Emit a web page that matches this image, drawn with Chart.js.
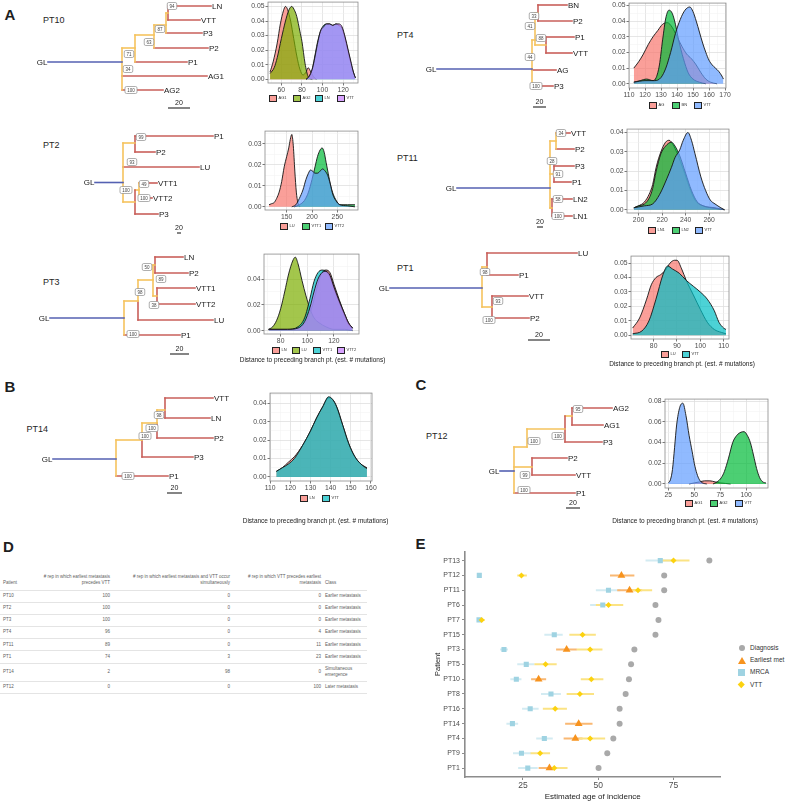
<!DOCTYPE html>
<html>
<head>
<meta charset="utf-8">
<script src="https://cdn.jsdelivr.net/npm/chart.js@4.4.1/dist/chart.umd.min.js"></script>
<style>
  body { margin: 0; background: #fff; font-family: "Liberation Sans", Arial, Helvetica, sans-serif; }
  #page { position: relative; width: 786px; height: 802px; overflow: hidden; background: #fff; }
  .txt { position: absolute; white-space: nowrap; color: #1e1e1e; }
  #tableD { position: absolute; left: 0; top: 566px; border-collapse: collapse; font-size: 4.5px; color: #5e5e5e; table-layout: fixed; }
  #tableD td, #tableD th { padding: 0 1px; font-weight: normal; border-bottom: 0.8px solid #e4e4e4; line-height: 6.4px; }
  #tableD th { vertical-align: bottom; padding-bottom: 3px; }
  .leg { position: absolute; }
</style>
</head>
<body>
<div id="page"></div>
<script>
const FONT = '"Liberation Sans", Arial, Helvetica, sans-serif';
Chart.defaults.font.family = FONT;

// ---------- trees (branch = [x1, y1, x2, y2, kind, tip]) ----------
const pt10Branches = [
  [0, 56, 74, 56, 'g'], [74, 42, 74, 84, 'o'], [74, 42, 87, 42, 'o'], [87, 29, 87, 56, 'o'],
  [87, 56, 139, 56, 'r', 'P1'], [87, 29, 106, 29, 'o'], [106, 19, 106, 42, 'o'],
  [106, 42, 160, 42, 'r', 'P2'], [106, 19, 118, 19, 'o'], [118, 7, 118, 27, 'o'],
  [118, 27, 154, 27, 'r', 'P3'], [118, 7, 120, 7, 'o'], [120, 0, 120, 14, 'r'],
  [120, 0, 163, 0, 'r', 'LN'], [120, 14, 152, 14, 'r', 'VTT'],
  [74, 70, 159, 70, 'r', 'AG1'], [74, 84, 115, 84, 'r', 'AG2']
];
const pt10Boot = [[94, 124, 0], [87, 112, 23], [63, 101, 36], [71, 81, 48], [34, 80, 63], [100, 83, 84]];
const pt10Bar = [120, 142, 102];

const pt4Branches = [
  [0, 64, 95, 64, 'g'], [95, 35, 95, 81, 'o'], [95, 35, 98, 35, 'o'], [98, 8, 98, 40, 'o'],
  [98, 8, 101, 8, 'o'], [101, 0, 101, 16, 'r'], [101, 0, 130, 0, 'r', 'BN'],
  [101, 16, 135, 16, 'r', 'P2'], [98, 40, 109, 40, 'o'], [109, 32, 109, 48, 'r'],
  [109, 32, 137, 32, 'r', 'P1'], [109, 48, 135, 48, 'r', 'VTT'],
  [95, 65, 119, 65, 'r', 'AG'], [95, 81, 116, 81, 'r', 'P3']
];
const pt4Boot = [[33, 97, 11], [41, 93, 21], [88, 104, 33], [44, 93, 52], [100, 99, 81]];
const pt4Bar = [96, 109, 102];

const pt2Branches = [
  [0, 46.5, 28, 46.5, 'g'], [28, 7, 28, 66, 'o'], [28, 7, 40, 7, 'o'], [40, 0, 40, 16, 'r'],
  [40, 0, 118, 0, 'r', 'P1'], [40, 16, 60, 16, 'r', 'P2'], [28, 31, 104, 31, 'r', 'LU'],
  [28, 66, 40, 66, 'o'], [40, 54, 40, 78, 'r'], [40, 54, 44, 54, 'o'], [44, 47, 44, 62, 'o'],
  [44, 47, 62, 47, 'r', 'VTT1'], [44, 62, 57, 62, 'r', 'VTT2'], [40, 78, 63, 78, 'r', 'P3']
];
const pt2Boot = [[99, 46, 1], [93, 37, 26], [100, 31, 54], [49, 49, 48], [100, 49, 62]];
const pt2Bar = [82, 86, 97];

const pt11Branches = [
  [0, 55, 93, 55, 'g'], [93, 8, 93, 75, 'o'], [93, 8, 99, 8, 'o'], [99, 0, 99, 16, 'o'],
  [99, 0, 113, 0, 'r', 'VTT'], [99, 16, 117, 16, 'r', 'P2'], [93, 41, 97, 41, 'o'],
  [97, 33, 97, 49, 'r'], [97, 33, 117, 33, 'r', 'P3'], [97, 49, 114, 49, 'r', 'P1'],
  [93, 75, 95, 75, 'o'], [95, 66, 95, 83, 'r'], [95, 66, 115, 66, 'r', 'LN2'], [95, 83, 115, 83, 'r', 'LN1']
];
const pt11Boot = [[34, 104, 0], [28, 95, 28], [91, 101, 41], [58, 101, 66], [100, 101, 83]];
const pt11Bar = [80, 86, 94];

const pt3Branches = [
  [0, 61, 74, 61, 'g'], [74, 44, 74, 78, 'o'], [74, 44, 88, 44, 'o'], [88, 23, 88, 44, 'o'],
  [88, 44, 88, 63, 'r'], [88, 63, 163, 63, 'r', 'LU'], [88, 23, 103, 23, 'o'], [103, 8, 103, 39, 'o'],
  [103, 8, 105, 8, 'o'], [105, 0, 105, 16, 'r'], [105, 0, 133, 0, 'r', 'LN'], [105, 16, 138, 16, 'r', 'P2'],
  [103, 39, 107, 39, 'o'], [107, 31, 107, 47, 'r'], [107, 31, 145, 31, 'r', 'VTT1'],
  [107, 47, 145, 47, 'r', 'VTT2'], [74, 78, 130, 78, 'r', 'P1']
];
const pt3Boot = [[50, 97, 10], [89, 111, 22], [98, 90, 35], [38, 104, 48], [100, 83, 77]];
const pt3Bar = [120, 139, 97];

const pt1Branches = [
  [0, 35, 92, 35, 'g'], [92, 14, 92, 54, 'o'], [92, 14, 97, 14, 'o'], [97, 0, 97, 22, 'r'],
  [97, 0, 187, 0, 'r', 'LU'], [97, 22, 128, 22, 'r', 'P1'], [92, 54, 102, 54, 'o'],
  [102, 43, 102, 65, 'r'], [102, 43, 138, 43, 'r', 'VTT'], [102, 65, 139, 65, 'r', 'P2']
];
const pt1Boot = [[98, 95, 19], [93, 108, 48], [100, 99, 67]];
const pt1Bar = [138, 160, 87];

const pt14Branches = [
  [0, 61, 63, 61, 'g'], [63, 42, 63, 78, 'o'], [63, 42, 89, 42, 'o'], [89, 25, 89, 42, 'o'],
  [89, 42, 89, 59, 'r'], [89, 59, 140, 59, 'r', 'P3'], [89, 25, 104, 25, 'o'], [104, 12, 104, 25, 'o'],
  [104, 25, 104, 40, 'r'], [104, 40, 160, 40, 'r', 'P2'], [104, 12, 112, 12, 'o'], [112, 0, 112, 20, 'r'],
  [112, 0, 160, 0, 'r', 'VTT'], [112, 20, 157, 20, 'r', 'LN'], [63, 78, 115, 78, 'r', 'P1']
];
const pt14Boot = [[98, 106, 17], [100, 99, 30], [100, 92, 38], [100, 75, 78]];
const pt14Bar = [114, 129, 95];

const pt12Branches = [
  [0, 63, 14, 63, 'g'], [14, 39, 14, 85, 'o'], [14, 39, 27, 39, 'o'], [27, 21, 27, 39, 'o'],
  [27, 21, 65, 21, 'o'], [65, 8, 65, 34, 'r'], [65, 8, 72, 8, 'o'], [72, 0, 72, 17, 'r'],
  [72, 0, 112, 0, 'r', 'AG2'], [72, 17, 103, 17, 'r', 'AG1'], [65, 34, 102, 34, 'r', 'P3'],
  [14, 59, 32, 59, 'o'], [32, 50, 32, 67, 'r'], [32, 50, 67, 50, 'r', 'P2'],
  [32, 67, 75, 67, 'r', 'VTT'], [14, 85, 75, 85, 'r', 'P1']
];
const pt12Boot = [[95, 78, 1], [100, 58, 28], [100, 34, 33], [99, 25, 67], [100, 24, 82]];
const pt12Bar = [66, 80, 100];

// ---------- densities ----------
const pt10Names = ['AG1', 'AG2', 'LN', 'VTT'];
const pt10AG1 = [[49,0.005],[52,0.012],[56,0.025],[59,0.038],[62,0.047],[64,0.05],[66,0.048],[69,0.04],[72,0.028],[75,0.016],[78,0.007],[81,0.003],[84,0.005],[86,0.008],[88,0.006],[91,0.002],[94,0]];
const pt10AG2 = [[49,0.004],[53,0.008],[56,0.015],[60,0.028],[64,0.04],[67,0.047],[70,0.05],[73,0.047],[75,0.043],[78,0.033],[80,0.026],[83,0.011],[86,0.002],[90,0]];
const pt10LN = [[84,0],[87,0.002],[90,0.007],[92,0.014],[95,0.025],[98,0.033],[101,0.037],[104,0.038],[107,0.038],[110,0.037],[113,0.038],[116,0.037],[119,0.035],[122,0.028],[125,0.019],[128,0.01],[130,0.005],[132,0.001]];
const pt10VTT = [[84,0],[87,0.002],[90,0.007],[92,0.013],[95,0.024],[98,0.033],[101,0.036],[104,0.038],[107,0.038],[110,0.037],[113,0.038],[116,0.038],[119,0.036],[122,0.029],[125,0.02],[128,0.011],[130,0.005],[132,0.001]];

const pt4Names = ['AG', 'BN', 'VTT'];
const pt4AG = [[113,0.01],[116,0.014],[119,0.019],[122,0.025],[125,0.03],[128,0.034],[131,0.038],[134,0.039],[137,0.036],[140,0.03],[143,0.024],[146,0.019],[149,0.016],[152,0.012],[155,0.007],[158,0.003],[161,0.001],[165,0]];
const pt4BN = [[113,0.001],[117,0.002],[121,0.003],[125,0.002],[127,0.004],[129,0.012],[131,0.028],[133,0.042],[135,0.047],[137,0.045],[139,0.038],[141,0.028],[144,0.016],[147,0.007],[150,0.003],[154,0.001],[158,0]];
const pt4VTT = [[113,0.001],[120,0.002],[126,0.002],[130,0.004],[133,0.01],[136,0.02],[139,0.032],[142,0.041],[145,0.047],[148,0.049],[150,0.046],[152,0.04],[154,0.033],[156,0.026],[158,0.02],[160,0.015],[162,0.012],[164,0.01],[166,0.008],[168,0.005],[169,0.003]];

const pt2Names = ['LU', 'VTT1', 'VTT2'];
const pt2LU = [[115,0.001],[120,0.0015],[125,0.002],[130,0.004],[135,0.007],[140,0.012],[145,0.019],[150,0.024],[154,0.028],[157,0.032],[160,0.0344],[163,0.029],[166,0.017],[169,0.007],[172,0.002],[176,0]];
const pt2VTT1 = [[165,0],[175,0.001],[185,0.003],[193,0.007],[200,0.013],[206,0.019],[211,0.024],[216,0.027],[220,0.028],[224,0.026],[228,0.021],[232,0.016],[237,0.01],[242,0.006],[248,0.003],[255,0.001],[270,0.001],[285,0.001]];
const pt2VTT2 = [[160,0],[168,0.001],[175,0.004],[182,0.008],[188,0.013],[193,0.016],[197,0.0175],[201,0.017],[206,0.016],[211,0.016],[216,0.017],[221,0.018],[226,0.017],[231,0.015],[236,0.011],[241,0.006],[247,0.003],[255,0.001],[270,0.0005],[285,0]];

const pt11Names = ['LN1', 'LN2', 'VTT'];
const pt11LN1 = [[196,0.001],[200,0.002],[205,0.004],[209,0.008],[212,0.013],[215,0.022],[219,0.03],[223,0.035],[226,0.036],[229,0.034],[233,0.029],[238,0.021],[243,0.012],[248,0.005],[255,0.002],[265,0.001],[273,0]];
const pt11LN2 = [[196,0.001],[200,0.002],[205,0.003],[209,0.006],[212,0.011],[215,0.02],[219,0.029],[223,0.033],[228,0.035],[231,0.033],[235,0.028],[240,0.019],[245,0.01],[250,0.004],[255,0.002],[262,0.001],[273,0]];
const pt11VTT = [[196,0.001],[205,0.002],[212,0.003],[218,0.008],[224,0.016],[228,0.022],[231,0.027],[235,0.031],[238,0.036],[242,0.04],[245,0.036],[248,0.029],[253,0.017],[257,0.01],[261,0.005],[265,0.003],[270,0.001],[273,0]];

const pt3Names = ['LN', 'LU', 'VTT1', 'VTT2'];
const pt3LN = [[71,0.001],[85,0.001],[95,0.003],[100,0.008],[104,0.02],[108,0.036],[111,0.045],[114,0.047],[117,0.045],[120,0.036],[124,0.024],[128,0.013],[131,0.006],[134,0.002]];
const pt3LU = [[71,0.001],[74,0.003],[77,0.008],[80,0.017],[83,0.03],[86,0.044],[89,0.054],[91,0.057],[93,0.052],[96,0.039],[99,0.027],[102,0.017],[105,0.01],[109,0.006],[114,0.003],[120,0.001],[128,0.001],[134,0]];
const pt3VTT1 = [[71,0.001],[85,0.001],[93,0.003],[98,0.01],[102,0.025],[105,0.038],[108,0.045],[111,0.047],[114,0.046],[117,0.042],[120,0.033],[124,0.022],[128,0.012],[131,0.005],[134,0.002]];
const pt3VTT2 = [[71,0.001],[85,0.001],[93,0.002],[98,0.007],[102,0.018],[105,0.03],[108,0.04],[111,0.045],[114,0.046],[117,0.043],[120,0.034],[124,0.023],[128,0.013],[131,0.006],[134,0.002]];

const pt1Names = ['LU', 'VTT'];
const pt1LU = [[71,0.005],[74,0.012],[77,0.025],[79,0.035],[81,0.04],[83,0.042],[85,0.045],[87,0.05],[89,0.052],[90,0.052],[92,0.046],[94,0.038],[97,0.028],[100,0.018],[103,0.009],[106,0.004],[109,0.002],[111,0.001]];
const pt1VTT = [[71,0.001],[75,0.003],[78,0.01],[81,0.025],[84,0.042],[86,0.048],[88,0.046],[91,0.043],[94,0.038],[97,0.034],[100,0.03],[103,0.025],[106,0.017],[108,0.009],[110,0.005],[111,0.004]];

const pt14Names = ['LN', 'VTT'];
const pt14LN = [[113,0.003],[116,0.005],[119,0.008],[122,0.011],[126,0.017],[130,0.025],[133,0.032],[136,0.038],[139,0.043],[141,0.042],[143,0.038],[146,0.028],[149,0.018],[152,0.011],[155,0.007],[158,0.005]];
const pt14VTT = [[113,0.003],[116,0.005],[119,0.007],[122,0.01],[126,0.017],[130,0.025],[133,0.032],[136,0.038],[139,0.0435],[141,0.042],[143,0.038],[146,0.028],[149,0.018],[152,0.011],[155,0.007],[158,0.0045]];

const pt12Names = ['AG1', 'AG2', 'VTT'];
const pt12AG1 = [[45,0],[50,0.001],[55,0.002],[60,0.003],[65,0.003],[70,0.002],[75,0.001],[80,0.0005],[85,0]];
const pt12AG2 = [[68,0],[72,0.002],[76,0.006],[79,0.012],[83,0.025],[87,0.04],[91,0.047],[95,0.05],[98,0.0505],[101,0.047],[104,0.04],[107,0.028],[110,0.015],[113,0.006],[116,0.002],[119,0.001]];
const pt12VTT = [[25,0.001],[27,0.004],[29,0.014],[31,0.035],[33,0.057],[36,0.074],[39,0.078],[42,0.066],[45,0.047],[48,0.031],[50,0.02],[52.5,0.01],[55,0.004],[58,0.001],[62,0]];

const pal2 = ['#F8766D', '#00BFC4'];
const pal3 = ['#F8766D', '#00BA38', '#619CFF'];
const pal4 = ['#F8766D', '#7CAE00', '#00BFC4', '#C77CFF'];

// ---------- panel D ----------
const dHeader = [['Patient'], ['# rep in which earliest metastasis', 'precedes VTT'],
  ['# rep in which earliest metastasis and VTT occur', 'simultaneously'],
  ['# rep in which VTT precedes earliest', 'metastasis'], ['Class']];
const dPatients = ['PT10', 'PT2', 'PT3', 'PT4', 'PT11', 'PT1', 'PT14', 'PT12'];
const dPrecedes = [100, 100, 100, 96, 89, 74, 2, 0];
const dSimult = [0, 0, 0, 0, 0, 3, 98, 0];
const dVttFirst = [0, 0, 0, 4, 11, 23, 0, 100];
const dClass = ['Earlier metastasis', 'Earlier metastasis', 'Earlier metastasis', 'Earlier metastasis',
  'Earlier metastasis', 'Earlier metastasis', 'Simultaneous emergence', 'Later metastasis'];

// ---------- panel E ----------
const ePatients = ['PT13', 'PT12', 'PT11', 'PT6', 'PT7', 'PT15', 'PT3', 'PT5', 'PT10', 'PT8', 'PT16', 'PT14', 'PT4', 'PT9', 'PT1'];
const eDiagnosis = [86.9, 71.9, 71.9, 69.0, 70.0, 69.0, 62.0, 60.9, 60.2, 59.1, 57.1, 57.1, 55.0, 53.0, 50.1];
const eMrca = [70.6, 10.5, 53.4, 51.5, 10.4, 35.4, 18.7, 26.1, 22.8, 34.3, 27.4, 21.5, 32.1, 24.5, 26.6];
const eMrcaLo = [65.7, 10.2, 49.2, 47.3, 10.0, 32.1, 17.4, 23.1, 20.8, 31.0, 24.7, 19.5, 29.4, 21.7, 23.4];
const eMrcaHi = [75.0, 10.8, 57.4, 55.2, 10.8, 38.2, 20.0, 28.8, 24.5, 37.6, 30.2, 23.4, 34.9, 27.7, 29.9];
const eMet = [null, 57.7, 60.4, null, null, null, 39.5, null, 30.2, null, null, 43.5, 42.4, null, 33.8];
const eMetLo = [null, 53.9, 56.3, null, null, null, 36.0, null, 27.7, null, null, 39.0, 38.5, null, 30.2];
const eMetHi = [null, 62.0, 64.6, null, null, null, 42.9, null, 32.7, null, null, 48.1, 44.8, null, 37.4];
const eVtt = [75.0, 24.5, 63.2, 53.4, 11.3, 44.8, 47.3, 32.5, 47.7, 43.9, 35.7, null, 47.3, 30.7, 35.4];
const eVttLo = [71.2, 23.1, 59.6, 49.2, 10.3, 40.4, 42.9, 28.8, 44.2, 39.5, 31.6, null, 43.7, 27.5, 33.2];
const eVttHi = [80.3, 26.3, 67.9, 58.3, 12.3, 49.2, 51.4, 36.2, 51.7, 48.6, 39.6, null, 52.3, 34.0, 39.8];
const eXTicks = [25, 50, 75];

// ---------- helpers ----------
const page = document.getElementById('page');

function hexA(hex, a) {
  const n = parseInt(hex.slice(1), 16);
  return `rgba(${n >> 16},${(n >> 8) & 255},${n & 255},${a})`;
}

function addText(str, x, yc, size, o = {}) {
  const d = document.createElement('div');
  d.className = 'txt';
  d.textContent = str;
  d.style.fontSize = size + 'px';
  d.style.lineHeight = size + 'px';
  d.style.top = (yc - size / 2) + 'px';
  d.style.left = x + 'px';
  if (o.bold) d.style.fontWeight = 'bold';
  if (o.color) d.style.color = o.color;
  if (o.center) d.style.transform = 'translateX(-50%)';
  page.appendChild(d);
  return d;
}

function addCanvas(left, top, w, h) {
  const c = document.createElement('canvas');
  c.width = w; c.height = h;
  c.style.cssText = `position:absolute;left:${left}px;top:${top}px;width:${w}px;height:${h}px`;
  page.appendChild(c);
  return c;
}

const TREE_INK = { g: '#5461b2', o: '#f5c35e', r: '#c95f5a' };

function drawTree(box, origin, branches, boot, bar) {
  const c = addCanvas(box.left, box.top, box.w, box.h);
  const datasets = branches.map(b => ({
    data: [{ x: b[0], y: b[1] }, { x: b[2], y: b[3] }],
    showLine: true, borderColor: TREE_INK[b[4]], borderWidth: 1.6,
    pointRadius: 0, borderCapStyle: 'square'
  }));
  datasets.push({
    data: [{ x: bar[0], y: bar[2] }, { x: bar[1], y: bar[2] }],
    showLine: true, borderColor: '#222', borderWidth: 1.1, pointRadius: 0
  });
  new Chart(c, {
    type: 'scatter',
    data: { datasets },
    options: {
      responsive: false, animation: false, events: [],
      layout: { padding: 0 },
      plugins: { legend: { display: false }, tooltip: { enabled: false } },
      scales: {
        x: { display: false, min: box.left - origin.x, max: box.left + box.w - origin.x },
        y: { display: false, reverse: true, min: box.top - origin.y, max: box.top + box.h - origin.y }
      }
    },
    plugins: [{
      id: 'treeText',
      afterDatasetsDraw(chart) {
        const { ctx } = chart;
        const px = v => chart.scales.x.getPixelForValue(v);
        const py = v => chart.scales.y.getPixelForValue(v);
        ctx.save();
        ctx.fillStyle = '#1a1a1a';
        ctx.textBaseline = 'middle';
        ctx.font = `8px ${FONT}`;
        branches.forEach(b => { if (b[5]) ctx.fillText(b[5], px(b[2]) + 1, py(b[3]) + 0.5); });
        const trunk = branches[0];
        ctx.textAlign = 'right';
        ctx.fillText('GL', px(trunk[0]) - 0.5, py(trunk[1]) + 0.5);
        ctx.textAlign = 'center';
        ctx.font = `7px ${FONT}`;
        ctx.fillText('20', px((bar[0] + bar[1]) / 2), py(bar[2]) - 5);
        ctx.font = `4.5px ${FONT}`;
        boot.forEach(([v, bx, by]) => {
          const s = String(v);
          const w = ctx.measureText(s).width + 4.5, h = 7;
          const cx = px(bx), cy = py(by);
          ctx.beginPath();
          ctx.roundRect(cx - w / 2, cy - h / 2, w, h, 1.5);
          ctx.fillStyle = '#fff';
          ctx.fill();
          ctx.strokeStyle = '#8c8c8c';
          ctx.lineWidth = 0.7;
          ctx.stroke();
          ctx.fillStyle = '#444';
          ctx.fillText(s, cx, cy + 0.3);
        });
        ctx.restore();
      }
    }]
  });
}

function gridValues(min, max, step) {
  const half = step / 2, out = [];
  for (let k = Math.ceil(min / half - 1e-9); k * half <= max + 1e-9; k++) out.push(+(k * half).toFixed(6));
  return out;
}
const isMajor = (v, step) => Math.abs(v / step - Math.round(v / step)) < 1e-6;

function densityAxis(min, max, step, fmt, fit) {
  return {
    type: 'linear', min, max,
    afterBuildTicks: s => { s.ticks = gridValues(min, max, step).map(v => ({ value: v })); },
    afterFit: fit,
    ticks: {
      autoSkip: false, maxRotation: 0, padding: 1, color: '#4d4d4d',
      font: { size: 6.8 },
      callback: v => isMajor(v, step) ? fmt(v) : ''
    },
    grid: {
      color: c => c.tick && isMajor(c.tick.value, step) ? '#e0e0e0' : '#f1f1f1',
      lineWidth: c => c.tick && isMajor(c.tick.value, step) ? 0.8 : 0.5,
      tickColor: c => c.tick && isMajor(c.tick.value, step) ? '#555' : 'rgba(0,0,0,0)',
      tickLength: 2.5
    },
    border: { display: false }
  };
}

function drawDensity(d) {
  const padL = 22, padT = 5, padR = 6, axisH = 12;
  const left = Math.round(d.frame.L) - padL, top = Math.round(d.frame.T) - padT;
  const w = Math.round(d.frame.R - d.frame.L) + padL + padR;
  const h = Math.round(d.frame.B - d.frame.T) + padT + axisH;
  const c = addCanvas(left, top, w, h);
  const n = d.names.length;
  const datasets = d.names.map((name, i) => ({
    label: name,
    data: d.series[i].map(p => ({ x: p[0], y: p[1] })),
    fill: 'origin',
    backgroundColor: hexA(d.colors[i], 0.7),
    borderColor: '#141414', borderWidth: 0.9,
    pointRadius: 0, cubicInterpolationMode: 'monotone',
    order: n - i
  }));
  new Chart(c, {
    type: 'line',
    data: { datasets },
    options: {
      responsive: false, animation: false, events: [],
      layout: { padding: { left: 0, top: padT, right: padR, bottom: 0 } },
      plugins: { legend: { display: false }, tooltip: { enabled: false } },
      scales: {
        x: densityAxis(d.x[0], d.x[1], d.xStep, v => String(v), s => { s.height = axisH; }),
        y: densityAxis(d.y[0], d.y[1], d.yStep, v => v.toFixed(2), s => { s.width = padL; })
      }
    },
    plugins: [{
      id: 'panelBorder',
      afterDraw(chart) {
        const a = chart.chartArea, ctx = chart.ctx;
        ctx.save();
        ctx.strokeStyle = '#8a8a8a';
        ctx.lineWidth = 0.8;
        ctx.strokeRect(a.left, a.top, a.right - a.left, a.bottom - a.top);
        ctx.restore();
      }
    }]
  });
  d.legendX.forEach((lx, i) => {
    const b = document.createElement('div');
    b.className = 'leg';
    b.style.cssText += `left:${lx}px;top:${d.legendY - 3.5}px;width:5.5px;height:5.5px;border:0.8px solid #222;background:${hexA(d.colors[i], 0.7)}`;
    page.appendChild(b);
    addText(d.names[i], lx + 9.5, d.legendY, 4, { color: '#333' });
  });
  if (d.titleY) addText('Distance to preceding branch pt. (est. # mutations)', d.titleX, d.titleY, 6.5, { center: true, color: '#222' });
}

// ---------- labels ----------
addText('A', 4.5, 14.3, 15, { bold: true });
addText('B', 4.5, 386.7, 15, { bold: true });
addText('C', 415.5, 384, 15, { bold: true });
addText('D', 3, 546, 15, { bold: true });
addText('E', 415.5, 543.5, 15, { bold: true });
addText('PT10', 43, 20.7, 9);
addText('PT4', 397, 35, 9);
addText('PT2', 43, 145.7, 9);
addText('PT11', 397, 158.3, 9);
addText('PT3', 43, 282.3, 9);
addText('PT1', 397, 268.3, 9);
addText('PT14', 26.5, 429.3, 9);
addText('PT12', 426, 436.7, 9);

// ---------- trees ----------
drawTree({ left: 30, top: 0, w: 200, h: 112 }, { x: 48, y: 6 }, pt10Branches, pt10Boot, pt10Bar);
drawTree({ left: 420, top: 0, w: 200, h: 112 }, { x: 437, y: 5 }, pt4Branches, pt4Boot, pt4Bar);
drawTree({ left: 30, top: 120, w: 200, h: 118 }, { x: 95, y: 136 }, pt2Branches, pt2Boot, pt2Bar);
drawTree({ left: 420, top: 118, w: 190, h: 118 }, { x: 457, y: 133 }, pt11Branches, pt11Boot, pt11Bar);
drawTree({ left: 30, top: 240, w: 200, h: 120 }, { x: 50, y: 257 }, pt3Branches, pt3Boot, pt3Bar);
drawTree({ left: 372, top: 240, w: 218, h: 105 }, { x: 390, y: 253 }, pt1Branches, pt1Boot, pt1Bar);
drawTree({ left: 30, top: 385, w: 200, h: 115 }, { x: 53, y: 398 }, pt14Branches, pt14Boot, pt14Bar);
drawTree({ left: 470, top: 395, w: 160, h: 120 }, { x: 500, y: 408 }, pt12Branches, pt12Boot, pt12Bar);

// ---------- densities ----------
drawDensity({ frame: { L: 268, T: 2, R: 358, B: 83 }, x: [47, 134.5], y: [-0.0025, 0.053], xStep: 20, yStep: 0.01,
  names: pt10Names, series: [pt10AG1, pt10AG2, pt10LN, pt10VTT], colors: pal4, legendX: [269, 293, 315, 337], legendY: 98 });
drawDensity({ frame: { L: 629, T: 3, R: 726, B: 88 }, x: [110, 170.6], y: [-0.0027, 0.0515], xStep: 10, yStep: 0.01,
  names: pt4Names, series: [pt4AG, pt4BN, pt4VTT], colors: pal3, legendX: [649, 672, 694], legendY: 105 });
drawDensity({ frame: { L: 265, T: 131, R: 358, B: 210 }, x: [107, 291], y: [-0.0015, 0.036], xStep: 50, yStep: 0.01,
  names: pt2Names, series: [pt2LU, pt2VTT1, pt2VTT2], colors: pal3, legendX: [280, 302, 325], legendY: 226 });
drawDensity({ frame: { L: 627, T: 129, R: 729, B: 213 }, x: [190.2, 276.9], y: [-0.0017, 0.0418], xStep: 20, yStep: 0.01,
  names: pt11Names, series: [pt11LN1, pt11LN2, pt11VTT], colors: pal3, legendX: [648, 672, 695], legendY: 230 });
drawDensity({ frame: { L: 264, T: 254, R: 359, B: 334 }, x: [67.5, 138.8], y: [-0.0026, 0.0594], xStep: 20, yStep: 0.02,
  names: pt3Names, series: [pt3LN, pt3LU, pt3VTT1, pt3VTT2], colors: pal4, legendX: [272, 292, 313, 337], legendY: 350,
  titleX: 312.5, titleY: 360.7 });
drawDensity({ frame: { L: 631, T: 256, R: 729, B: 339 }, x: [70.3, 112.3], y: [-0.0026, 0.0549], xStep: 10, yStep: 0.01,
  names: pt1Names, series: [pt1LU, pt1VTT], colors: pal2, legendX: [661, 682], legendY: 354,
  titleX: 682, titleY: 364 });
drawDensity({ frame: { L: 270, T: 393, R: 372, B: 481 }, x: [109.9, 160.5], y: [-0.0022, 0.0455], xStep: 10, yStep: 0.01,
  names: pt14Names, series: [pt14LN, pt14VTT], colors: pal2, legendX: [300, 322], legendY: 498,
  titleX: 315.5, titleY: 521.7 });
drawDensity({ frame: { L: 665, T: 399, R: 768, B: 488 }, x: [21.8, 121], y: [-0.0039, 0.082], xStep: 25, yStep: 0.02,
  names: pt12Names, series: [pt12AG1, pt12AG2, pt12VTT], colors: pal3, legendX: [685, 710, 735], legendY: 503,
  titleX: 685, titleY: 521.7 });

// ---------- panel D table ----------
(function () {
  const widths = [35, 76, 120, 91, 45];
  const t = document.createElement('table');
  t.id = 'tableD';
  t.style.width = widths.reduce((a, b) => a + b, 0) + 'px';
  const cg = document.createElement('colgroup');
  widths.forEach(w => { const c = document.createElement('col'); c.style.width = w + 'px'; cg.appendChild(c); });
  t.appendChild(cg);
  const hr = document.createElement('tr');
  hr.style.height = '24px';
  dHeader.forEach((lines, i) => {
    const th = document.createElement('th');
    th.innerHTML = lines.join('<br>');
    th.style.textAlign = (i === 0 || i === 4) ? 'left' : 'right';
    if (i === 0 || i === 4) th.style.paddingLeft = '3px';
    hr.appendChild(th);
  });
  t.appendChild(hr);
  dPatients.forEach((p, r) => {
    const tr = document.createElement('tr');
    tr.style.height = (dClass[r].length > 20 ? 18.4 : 12.2) + 'px';
    [p, dPrecedes[r], dSimult[r], dVttFirst[r], dClass[r]].forEach((v, i) => {
      const td = document.createElement('td');
      td.textContent = v;
      td.style.textAlign = (i === 0 || i === 4) ? 'left' : 'right';
      if (i === 0 || i === 4) td.style.paddingLeft = '3px';
      td.style.whiteSpace = (i === 4 && String(v).length > 20) ? 'normal' : 'nowrap';
      tr.appendChild(td);
    });
    t.appendChild(tr);
  });
  page.appendChild(t);
})();

// ---------- panel E ----------
(function () {
  const c = addCanvas(433, 545, 292, 257);
  const pts = vals => vals.map((v, i) => v == null ? null : { x: v, y: i + 1 }).filter(Boolean);
  const bars = (lo, hi) => {
    const out = [];
    lo.forEach((l, i) => {
      if (l == null) return;
      out.push({ x: l, y: i + 1 }, { x: hi[i], y: i + 1 }, { x: hi[i], y: null });
    });
    return out;
  };
  const barSet = (data, color, order) => ({ data, showLine: true, spanGaps: false, borderColor: color, borderWidth: 2, pointRadius: 0, order });
  const axisInk = '#8c8c8c';
  const axisBase = {
    grid: { drawOnChartArea: false, tickLength: 3, color: axisInk, tickColor: axisInk },
    border: { color: axisInk, width: 1.6 }
  };
  new Chart(c, {
    type: 'scatter',
    data: {
      datasets: [
        { label: 'VTT', data: pts(eVtt), pointStyle: 'rectRot', pointRadius: 3, backgroundColor: '#fcd20f', borderWidth: 0, order: 0 },
        { label: 'Earliest met', data: pts(eMet), pointStyle: 'triangle', pointRadius: 4.5, backgroundColor: '#f7931e', borderWidth: 0, order: 1 },
        { label: 'MRCA', data: pts(eMrca), pointStyle: 'rect', pointRadius: 3.6, backgroundColor: '#9fd3e2', borderWidth: 0, order: 2 },
        { label: 'Diagnosis', data: pts(eDiagnosis), pointStyle: 'circle', pointRadius: 3, backgroundColor: '#a9a9a9', borderWidth: 0, order: 3 },
        barSet(bars(eVttLo, eVttHi), '#fbe384', 4),
        barSet(bars(eMetLo, eMetHi), '#f9b873', 5),
        barSet(bars(eMrcaLo, eMrcaHi), '#d3ebf2', 6)
      ]
    },
    options: {
      responsive: false, animation: false, events: [],
      layout: { padding: { left: 0, top: 6.7, right: 2.7, bottom: 0 } },
      plugins: { legend: { display: false }, tooltip: { enabled: false } },
      scales: {
        x: {
          ...axisBase, type: 'linear', min: 5.75, max: 90.6,
          afterBuildTicks: s => { s.ticks = eXTicks.map(v => ({ value: v })); },
          afterFit: s => { s.height = 25; },
          ticks: { color: '#4d4d4d', font: { size: 8.5 }, padding: 1, maxRotation: 0 },
          title: { display: true, text: 'Estimated age of incidence', color: '#222', font: { size: 8 }, padding: { top: 1, bottom: 0 } }
        },
        y: {
          ...axisBase, type: 'linear', reverse: true, min: 0.4, max: 15.6,
          afterBuildTicks: s => { s.ticks = ePatients.map((p, i) => ({ value: i + 1 })); },
          afterFit: s => { s.width = 32; },
          ticks: { callback: v => ePatients[v - 1] || '', color: '#4d4d4d', font: { size: 7 }, padding: 2 },
          title: { display: true, text: 'Patient', color: '#222', font: { size: 7.5 }, padding: 0 }
        }
      }
    }
  });

  // legend
  const legend = [
    ['Diagnosis', 648.3, 'width:6px;height:6px;border-radius:50%;background:#a9a9a9;'],
    ['Earliest met', 660.7, 'width:0;height:0;border-left:4px solid transparent;border-right:4px solid transparent;border-bottom:7px solid #f7931e;'],
    ['MRCA', 672.7, 'width:6.5px;height:6.5px;background:#9fd3e2;'],
    ['VTT', 685, 'width:4.5px;height:4.5px;background:#fcd20f;transform:rotate(45deg);']
  ];
  legend.forEach(([name, y, css]) => {
    const s = document.createElement('div');
    s.className = 'leg';
    page.appendChild(s);
    s.style.cssText = `position:absolute;${css}`;
    const r = s.getBoundingClientRect();
    s.style.left = (741.7 - r.width / 2) + 'px';
    s.style.top = (y - r.height / 2) + 'px';
    addText(name, 750, y, 6.5, { color: '#333' });
  });
})();
</script>
</body>
</html>
